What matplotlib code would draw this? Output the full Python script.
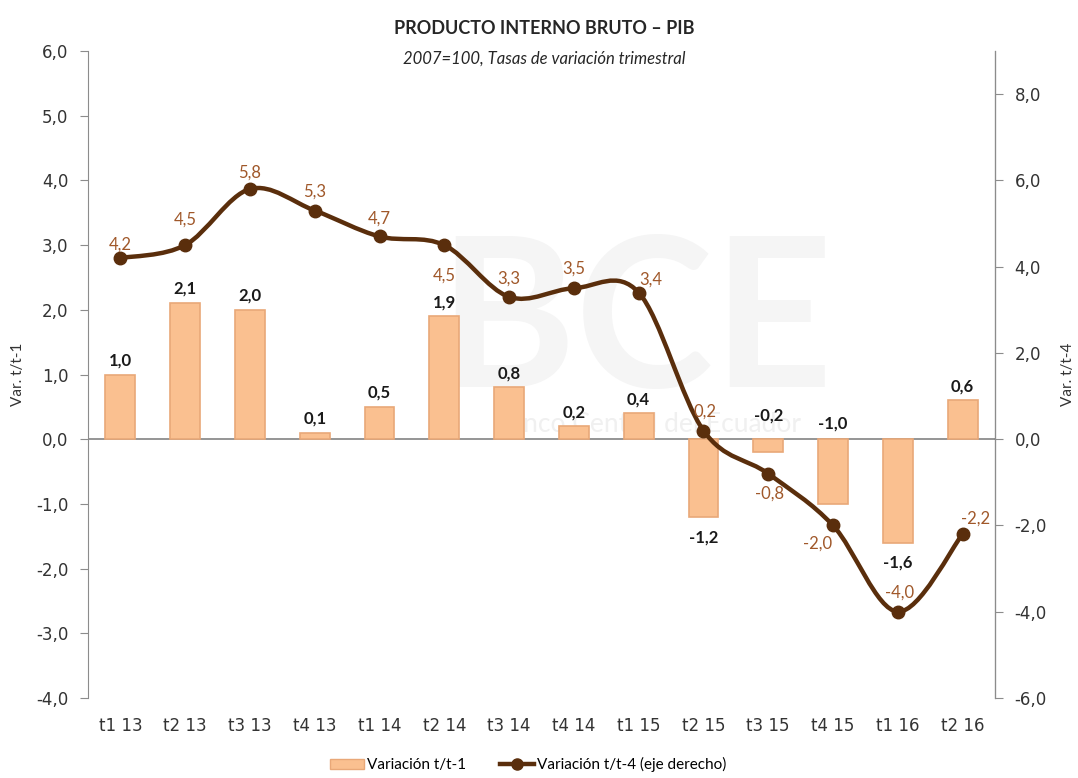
import numpy as np
import matplotlib.pyplot as plt
from matplotlib.path import Path
from matplotlib.patches import PathPatch, Patch
from matplotlib.lines import Line2D

# Data
quarters = ['t1 13', 't2 13', 't3 13', 't4 13', 't1 14', 't2 14', 't3 14',
            't4 14', 't1 15', 't2 15', 't3 15', 't4 15', 't1 16', 't2 16']
var_t1 = [1.0, 2.1, 2.0, 0.1, 0.5, 1.9, 0.8, 0.2, 0.4, -1.2, -0.2, -1.0, -1.6, 0.6]
var_t4 = [4.2, 4.5, 5.8, 5.3, 4.7, 4.5, 3.3, 3.5, 3.4, 0.2, -0.8, -2.0, -4.0, -2.2]

# label offsets in points (style only); bar labels with positive dy sit above max(v, 0)
bar_dy = [10, 11, 10, 10, 10, 10, 10, 10, 10, -15, 17, 11, -14, 10]
line_off = [(0, 10), (0, 18), (0, 12), (0, 14), (0, 13), (0, -22), (0, 13), (0, 14),
            (9, 9), (1, 14), (1, -14), (-11, -13), (1, 14), (9, 11)]

BAR_C = '#FAC090'
BAR_E = '#E9A878'
LINE_C = '#5A2E0C'
LAB_C = '#A0582A'

plt.rcParams['font.family'] = ['Lato', 'DejaVu Sans']

fig = plt.figure(figsize=(10.78, 7.78), dpi=100)
ax = fig.add_axes([88 / 1078, 1 - 698 / 778, (995 - 88) / 1078, (698 - 51) / 778])
ax2 = ax.twinx()

x = np.arange(len(quarters))

# faint watermark, drawn under the bars
ax.text(0.59, 0.58, 'BCE', fontsize=150, fontweight='bold', color='#f5f5f5',
        ha='center', va='center', zorder=0, transform=fig.transFigure)
ax.text(0.60, 0.455, 'Banco Central del Ecuador', fontsize=19, color='#f0f0f0',
        ha='center', va='center', zorder=0, transform=fig.transFigure)

ax.bar(x, var_t1, width=0.46, color=BAR_C, edgecolor=BAR_E, linewidth=1.2, zorder=2)
ax.axhline(0, color='#8c8c8c', lw=1.3, zorder=1)

ax.set_xlim(-0.5, len(quarters) - 0.5)
ax.set_ylim(-4, 6)
ax.set_yticks(np.arange(-4, 7, 1))
ax.set_yticklabels([f'{v:.1f}'.replace('.', ',') for v in np.arange(-4, 7, 1)],
                   fontsize=12, family='DejaVu Sans', color='#333333')
ax.set_xticks(x)
ax.set_xticklabels(quarters, fontsize=12, family='DejaVu Sans', color='#333333')
ax.tick_params(axis='x', length=0, pad=14)
ax.tick_params(axis='y', length=6, color='#8c8c8c', pad=8)
for s in ['top', 'bottom']:
    ax.spines[s].set_visible(False)
    ax2.spines[s].set_visible(False)
ax.spines['left'].set_color('#8c8c8c')
ax2.spines['right'].set_color('#8c8c8c')
ax2.spines['left'].set_visible(False)
ax.set_ylabel('Var. t/t-1', fontsize=11, color='#333333', labelpad=8)

ax2.set_ylim(-6, 9)
ax2.set_yticks(np.arange(-6, 9, 2))
ax2.set_yticklabels([f'{v:.1f}'.replace('.', ',') for v in np.arange(-6, 9, 2)],
                    fontsize=12, family='DejaVu Sans', color='#333333')
ax2.tick_params(axis='y', length=6, color='#8c8c8c', pad=8)
ax2.set_ylabel('Var. t/t-4', fontsize=11, color='#333333', labelpad=10)

# smooth line through the points (Catmull-Rom as cubic Bezier)
pts = np.column_stack([x, var_t4]).astype(float)
verts = [tuple(pts[0])]
codes = [Path.MOVETO]
t = 0.5
for i in range(len(pts) - 1):
    p0 = pts[i - 1] if i > 0 else pts[i]
    p1, p2 = pts[i], pts[i + 1]
    p3 = pts[i + 2] if i + 2 < len(pts) else pts[i + 1]
    c1 = p1 + (p2 - p0) * t / 3
    c2 = p2 - (p3 - p1) * t / 3
    verts += [tuple(c1), tuple(c2), tuple(p2)]
    codes += [Path.CURVE4] * 3
ax2.add_patch(PathPatch(Path(verts, codes), facecolor='none', edgecolor=LINE_C, lw=3.2, zorder=4))
ax2.plot(x, var_t4, 'o', color=LINE_C, ms=9, zorder=5)

ax.set_zorder(ax2.get_zorder() - 1)
ax.patch.set_visible(False)
ax2.patch.set_visible(False)

for xi, v, dy in zip(x, var_t1, bar_dy):
    anchor = max(v, 0) if dy > 0 else v
    ax.annotate(f'{v:.1f}'.replace('.', ','), (xi, anchor), xytext=(0, dy),
                textcoords='offset points', ha='center', va='center',
                fontsize=12, fontweight='bold', color='#1a1a1a', zorder=6)
for xi, v, off in zip(x, var_t4, line_off):
    ax2.annotate(f'{v:.1f}'.replace('.', ','), (xi, v), xytext=off, textcoords='offset points',
                 ha='center', va='center', fontsize=12, color=LAB_C, zorder=6)

fig.text(0.505, 0.964, 'PRODUCTO INTERNO BRUTO – PIB', ha='center', va='center',
         fontsize=13, fontweight='bold', color='#262626')
fig.text(0.505, 0.925, '2007=100, Tasas de variación trimestral', ha='center', va='center',
         fontsize=12, style='italic', color='#262626')

handles = [Patch(facecolor=BAR_C, edgecolor=BAR_E),
           Line2D([0], [0], color=LINE_C, lw=3.2, marker='o', ms=8)]
fig.legend(handles, ['Variación t/t-1', 'Variación t/t-4 (eje derecho)'],
           loc='center', bbox_to_anchor=(0.49, 0.017), ncol=2, frameon=False,
           fontsize=11, handlelength=2.2, columnspacing=2.2, handletextpad=0.2)

fig.savefig('out.png', dpi=100)
